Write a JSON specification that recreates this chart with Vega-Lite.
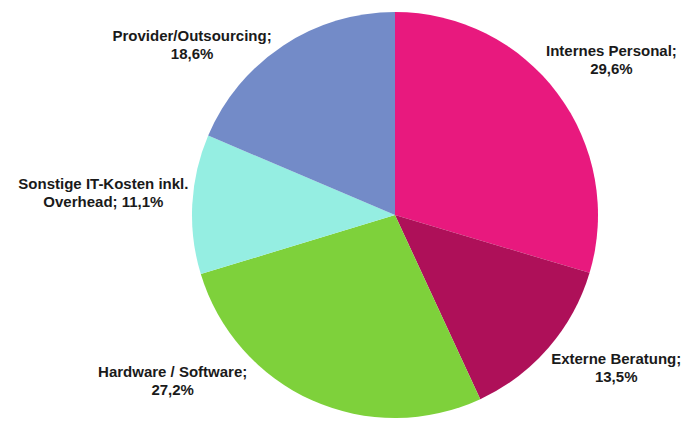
{
  "$schema": "https://vega.github.io/schema/vega-lite/v6.json",
  "autosize": {"type": "none"},
  "width": 406,
  "height": 406,
  "padding": {"left": 192, "top": 12, "right": 91, "bottom": 16},
  "background": "white",
  "config": {"view": {"stroke": null}},
  "data": {
    "values": [
      {"cat": "Internes Personal", "label": "Internes Personal;\n29,6%", "value": 29.6, "order": 1},
      {"cat": "Externe Beratung", "label": "Externe Beratung;\n13,5%", "value": 13.5, "order": 2},
      {"cat": "Hardware / Software", "label": "Hardware / Software;\n27,2%", "value": 27.2, "order": 3},
      {"cat": "Sonstige IT-Kosten inkl. Overhead", "label": "Sonstige IT-Kosten inkl.\nOverhead; 11,1%", "value": 11.1, "order": 4},
      {"cat": "Provider/Outsourcing", "label": "Provider/Outsourcing;\n18,6%", "value": 18.6, "order": 5}
    ]
  },
  "encoding": {
    "theta": {"field": "value", "type": "quantitative", "stack": true},
    "order": {"field": "order", "type": "quantitative"}
  },
  "layer": [
    {
      "mark": {"type": "arc", "stroke": null},
      "encoding": {
        "color": {
          "field": "cat",
          "type": "nominal",
          "legend": null,
          "scale": {
            "domain": ["Internes Personal", "Externe Beratung", "Hardware / Software", "Sonstige IT-Kosten inkl. Overhead", "Provider/Outsourcing"],
            "range": ["#E8197E", "#AE1059", "#7ED13B", "#95EEE2", "#738BC8"]
          }
        }
      }
    },
    {
      "mark": {"type": "text", "radius": 270, "dx": 0, "dy": -3, "font": "Liberation Sans", "fontWeight": "bold", "fontSize": 15, "lineBreak": "\n", "lineHeight": 18, "align": "center", "baseline": "middle", "color": "#1a1a1a"},
      "encoding": {"text": {"condition": {"test": "datum.cat === 'Internes Personal'", "field": "label"}, "value": ""}}
    },
    {
      "mark": {"type": "text", "radius": 270, "dx": 17, "dy": -33, "font": "Liberation Sans", "fontWeight": "bold", "fontSize": 15, "lineBreak": "\n", "lineHeight": 18, "align": "center", "baseline": "middle", "color": "#1a1a1a"},
      "encoding": {"text": {"condition": {"test": "datum.cat === 'Externe Beratung'", "field": "label"}, "value": ""}}
    },
    {
      "mark": {"type": "text", "radius": 270, "dx": -112, "dy": -89, "font": "Liberation Sans", "fontWeight": "bold", "fontSize": 15, "lineBreak": "\n", "lineHeight": 18, "align": "center", "baseline": "middle", "color": "#1a1a1a"},
      "encoding": {"text": {"condition": {"test": "datum.cat === 'Hardware / Software'", "field": "label"}, "value": ""}}
    },
    {
      "mark": {"type": "text", "radius": 270, "dx": -22, "dy": -17, "font": "Liberation Sans", "fontWeight": "bold", "fontSize": 15, "lineBreak": "\n", "lineHeight": 18, "align": "center", "baseline": "middle", "color": "#1a1a1a"},
      "encoding": {"text": {"condition": {"test": "datum.cat === 'Sonstige IT-Kosten inkl. Overhead'", "field": "label"}, "value": ""}}
    },
    {
      "mark": {"type": "text", "radius": 270, "dx": -54, "dy": 46, "font": "Liberation Sans", "fontWeight": "bold", "fontSize": 15, "lineBreak": "\n", "lineHeight": 18, "align": "center", "baseline": "middle", "color": "#1a1a1a"},
      "encoding": {"text": {"condition": {"test": "datum.cat === 'Provider/Outsourcing'", "field": "label"}, "value": ""}}
    }
  ]
}
